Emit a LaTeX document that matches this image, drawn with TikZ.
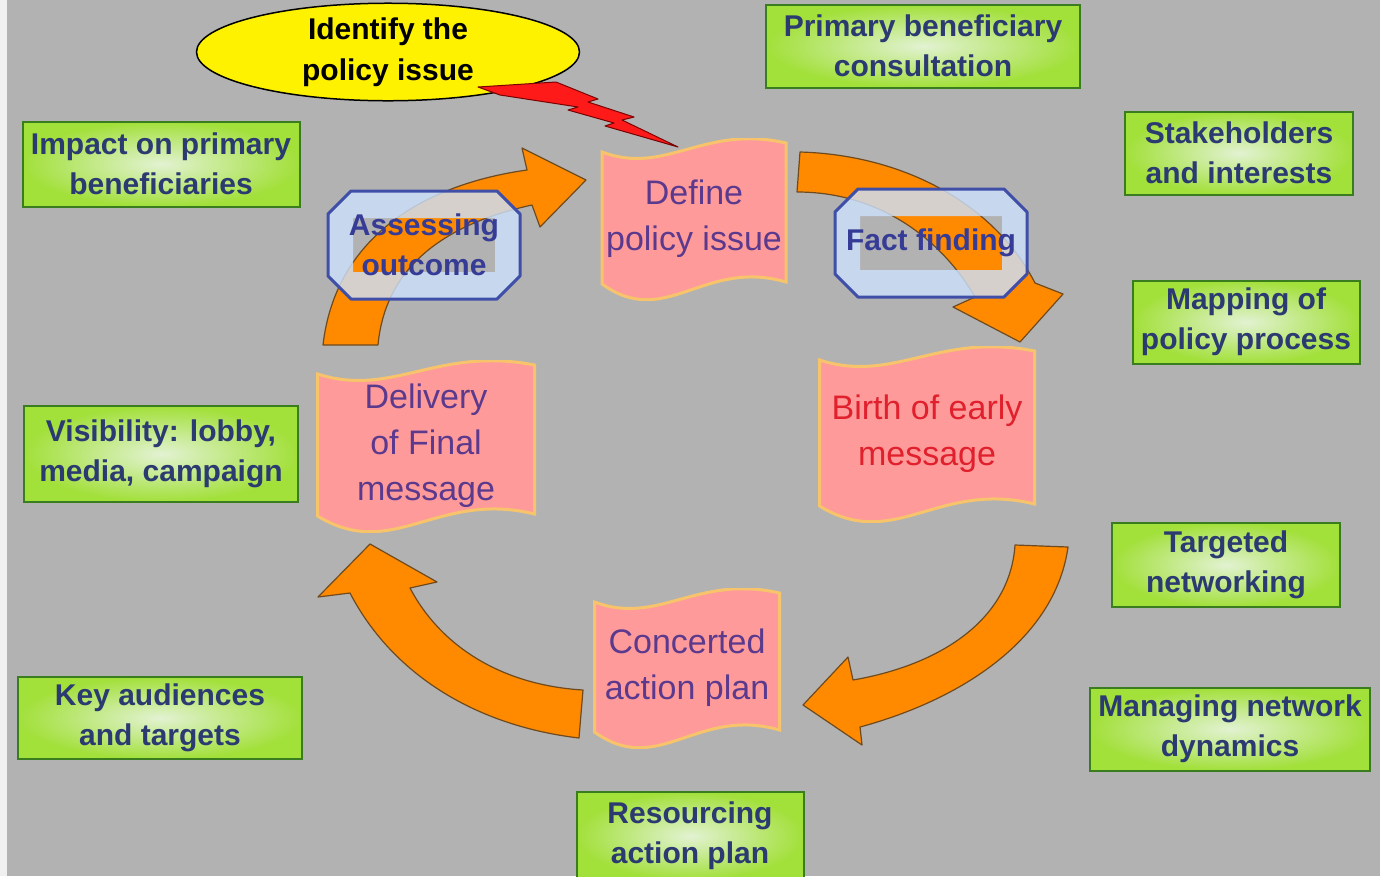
\documentclass[tikz,border=0pt]{standalone}
\usepackage{fontspec}
\setmainfont{Liberation Sans}
\usepackage{tikz}
\usetikzlibrary{shapes.geometric,calc}

\definecolor{bggray}{HTML}{B2B2B2}
\definecolor{boxline}{HTML}{3A7D1E}
\definecolor{boxinner}{HTML}{E2F2D2}
\definecolor{boxouter}{HTML}{A2E03A}
\definecolor{boxtext}{HTML}{2B3A70}
\definecolor{bannerpink}{HTML}{FF9A9A}
\definecolor{bannerrim}{HTML}{F7C46C}
\definecolor{bannertext}{HTML}{5B3A8E}
\definecolor{birthred}{HTML}{E0202C}
\definecolor{arrowfill}{HTML}{FF8A00}
\definecolor{arrowline}{HTML}{6E4A1E}
\definecolor{phasefill}{HTML}{CCE0FA}
\definecolor{phaseline}{HTML}{3F4FA8}
\definecolor{phasetext}{HTML}{363C96}
\definecolor{boltred}{HTML}{FF1A1A}
\definecolor{boltline}{HTML}{7A0000}

\begin{document}
\begin{tikzpicture}[x=1pt,y=-1pt,
  topic/.style={draw=boxline,line width=2pt,inner color=boxinner,outer color=boxouter,
    text=boxtext,align=center,inner sep=0pt,font=\fontsize{30}{40}\selectfont\bfseries},
  banner/.style={align=center,inner sep=0pt,font=\fontsize{34}{46}\selectfont,
    path picture={
      \filldraw[fill=bannerpink,draw=bannerrim,line width=3pt]
        let \p1=(path picture bounding box.north west),
            \p2=(path picture bounding box.south east),
            \n1={\x2-\x1} in
        (\x1+2pt,\y1-14pt)
          .. controls (\x1+0.35*\n1,\y1-38pt) and (\x1+0.55*\n1,\y1+14pt) .. (\x2-2pt,\y1-5pt)
        -- (\x2-2pt,\y2+18pt)
          .. controls (\x1+0.55*\n1,\y2+42pt) and (\x1+0.35*\n1,\y2-30pt) .. (\x1+2pt,\y2+16pt)
        -- cycle;
    }},
  phase/.style={align=center,inner sep=0pt,minimum width=196pt,minimum height=111pt,
    text=phasetext,font=\fontsize{30}{40}\selectfont\bfseries,
    path picture={
      \fill[phasefill,fill opacity=0.82,even odd rule]
        let \p0=(path picture bounding box.center) in
        (\x0-96pt,\y0+31pt) -- (\x0-73pt,\y0+54pt) -- (\x0+73pt,\y0+54pt) -- (\x0+96pt,\y0+31pt)
        -- (\x0+96pt,\y0-31pt) -- (\x0+73pt,\y0-54pt) -- (\x0-73pt,\y0-54pt) -- (\x0-96pt,\y0-31pt) -- cycle
        (\x0-71pt,\y0-27pt) rectangle (\x0+71pt,\y0+27pt);
      \draw[phaseline,line width=3pt,line join=round]
        let \p0=(path picture bounding box.center) in
        (\x0-96pt,\y0+31pt) -- (\x0-73pt,\y0+54pt) -- (\x0+73pt,\y0+54pt) -- (\x0+96pt,\y0+31pt)
        -- (\x0+96pt,\y0-31pt) -- (\x0+73pt,\y0-54pt) -- (\x0-73pt,\y0-54pt) -- (\x0-96pt,\y0-31pt) -- cycle;
    }},
  cyclearrow/.style={fill=arrowfill,draw=arrowline,line width=1.2pt,line join=round}]

\useasboundingbox (0,0) rectangle (1380,876);
\fill[bggray] (0,0) rectangle (1380,876);
\fill[white!80!bggray] (0,0) rectangle (7,876);

% the cycle arrows
\filldraw[cyclearrow] (323,345) -- (378,345)
  .. controls (385,270) and (440,225) .. (532,205)
  -- (540,227) -- (586,180) -- (522,148) -- (527,170)
  .. controls (420,185) and (335,240) .. (323,345) -- cycle;
\filldraw[cyclearrow] (800,152) -- (797,192)
  .. controls (885,192) and (945,245) .. (975,297)
  -- (953,307) -- (1020,342) -- (1063,294) -- (1035,283)
  .. controls (995,205) and (905,155) .. (800,152) -- cycle;
\filldraw[cyclearrow] (1015,545) -- (1068,547)
  .. controls (1055,640) and (960,700) .. (860,727)
  -- (862,745) -- (803,705) -- (848,657) -- (853,680)
  .. controls (940,665) and (1010,620) .. (1015,545) -- cycle;
\filldraw[cyclearrow] (583,690) -- (579,738)
  .. controls (470,725) and (390,670) .. (350,593)
  -- (318,597) -- (370,544) -- (437,582) -- (410,588)
  .. controls (440,645) and (500,685) .. (583,690) -- cycle;

% stages
\node (define) [banner,minimum width=188pt,minimum height=162pt,text=bannertext] at (694,219) {Define\\policy issue};
\node (birth) [banner,minimum width=219pt,minimum height=176pt,text=birthred] at (927,434) {Birth of early\\message};
\node (concert) [banner,minimum width=189pt,minimum height=160pt,text=bannertext] at (687,668) {Concerted\\action plan};
\node (deliver) [banner,minimum width=221pt,minimum height=172pt,text=bannertext] at (426,446) {Delivery\\of Final\\message};

\node (assess) [phase] at (424,245) {Assessing\\outcome};
\node (fact) [phase] at (931,243) {Fact finding};

% activities round the cycle
\node (consult) [topic,minimum width=314pt,minimum height=83pt] at (923,46) {Primary beneficiary\\consultation};
\node (stake) [topic,minimum width=228pt,minimum height=83pt] at (1239,153) {Stakeholders\\and interests};
\node (mapping) [topic,minimum width=227pt,minimum height=83pt] at (1246,322) {Mapping of\\policy process};
\node (network) [topic,minimum width=228pt,minimum height=84pt] at (1226,565) {Targeted\\networking};
\node (manage) [topic,minimum width=280pt,minimum height=83pt] at (1230,729) {Managing network\\dynamics};
\node (resource) [topic,minimum width=227pt,minimum height=88pt] at (690,836) {Resourcing\\action plan};
\node (audience) [topic,minimum width=284pt,minimum height=82pt] at (160,718) {Key audiences\\and targets};
\node (visible) [topic,minimum width=274pt,minimum height=96pt] at (161,454) {Visibility: lobby,\\media, campaign};
\node (impact) [topic,minimum width=277pt,minimum height=85pt] at (161,164) {Impact on primary\\beneficiaries};

\node (identify) [ellipse,draw=black,line width=1.5pt,fill=yellow,minimum width=383pt,minimum height=93pt,
  inner sep=0pt,align=center,font=\fontsize{30}{41}\selectfont\bfseries] at (388,52) {Identify the\\policy issue};
\filldraw[fill=boltred,draw=boltline,line width=1pt,line join=round]
  (478,87) -- (556,82) -- (598,99) -- (588,102) -- (634,117) -- (622,120) -- (678,147)
  -- (605,126) -- (614,123) -- (568,110) -- (578,107) -- (500,95) -- cycle;
\end{tikzpicture}
\end{document}
